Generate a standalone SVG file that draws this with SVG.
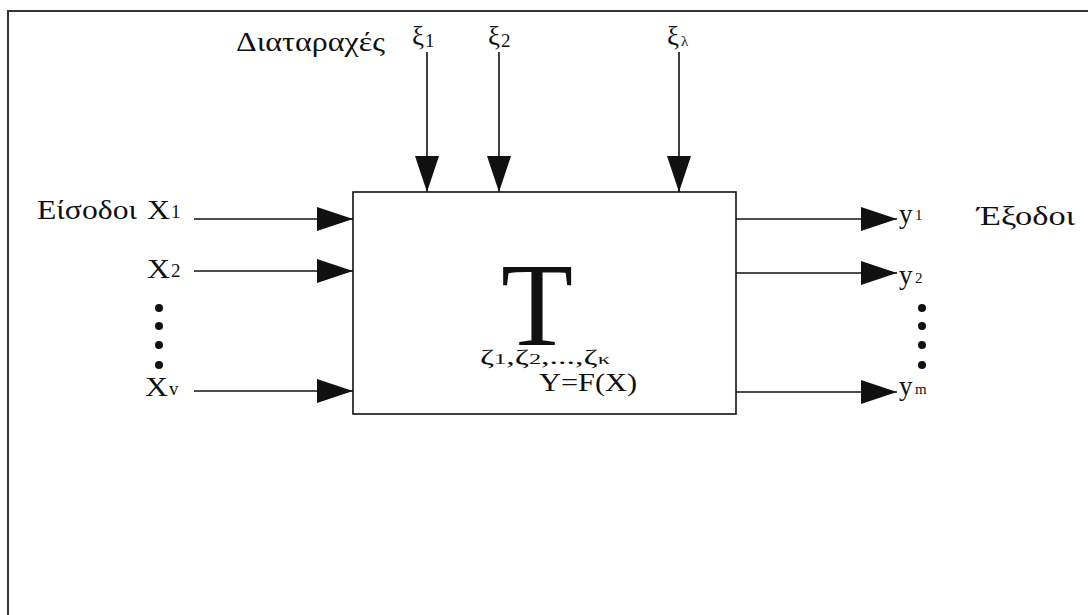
<svg xmlns="http://www.w3.org/2000/svg" width="1088" height="615" viewBox="0 0 1088 615">
<style>
text{font-family:"Liberation Serif","DejaVu Serif","Times New Roman",serif;fill:#111}
.m{font-size:27px}
.s{font-size:19px}
.o{font-size:15px}
.ln{stroke:#111;stroke-width:1.6;fill:none}
.dot{fill:#111}
</style>
<defs>
<marker id="ah" markerUnits="userSpaceOnUse" markerWidth="36" markerHeight="24" viewBox="0 0 36 24" refX="36" refY="12" orient="auto">
<path d="M0,0 L36,12 L0,24 z" fill="#111"/>
</marker>
</defs>
<rect width="1088" height="615" fill="#fff"/>
<g id="frame">
<path d="M8,615 V11 H1088" fill="none" stroke="#333" stroke-width="2"/>
</g>
<g id="system">
<rect x="353" y="192" width="383" height="222" fill="#fff" stroke="#111" stroke-width="1.6"/>
<text x="537" y="345" font-size="118" text-anchor="middle">T</text>
<text x="480" y="364" textLength="130" lengthAdjust="spacingAndGlyphs"><tspan font-size="21">ζ</tspan><tspan font-size="15">1</tspan><tspan font-size="21">,ζ</tspan><tspan font-size="15">2</tspan><tspan font-size="21">,...,ζ</tspan><tspan font-size="15">κ</tspan></text>
<text x="539" y="391" font-size="26" textLength="98" lengthAdjust="spacingAndGlyphs">Y=F(X)</text>
</g>
<g id="connectors">
<line class="ln" x1="194" y1="219" x2="353" y2="219" marker-end="url(#ah)"/>
<line class="ln" x1="194" y1="271" x2="353" y2="271" marker-end="url(#ah)"/>
<line class="ln" x1="194" y1="391" x2="353" y2="391" marker-end="url(#ah)"/>
<line class="ln" x1="427" y1="52" x2="427" y2="192" marker-end="url(#ah)"/>
<line class="ln" x1="499" y1="52" x2="499" y2="192" marker-end="url(#ah)"/>
<line class="ln" x1="679" y1="52" x2="679" y2="192" marker-end="url(#ah)"/>
<line class="ln" x1="736" y1="219" x2="897" y2="219" marker-end="url(#ah)"/>
<line class="ln" x1="736" y1="273" x2="897" y2="273" marker-end="url(#ah)"/>
<line class="ln" x1="736" y1="392" x2="897" y2="392" marker-end="url(#ah)"/>
</g>
<g id="inputs">
<text class="m" x="37" y="219" textLength="100" lengthAdjust="spacingAndGlyphs">Είσοδοι</text>
<text class="m" x="147" y="219" textLength="23" lengthAdjust="spacingAndGlyphs">X</text>
<text class="s" x="171" y="218">1</text>
<text class="m" x="147" y="278" textLength="23" lengthAdjust="spacingAndGlyphs">X</text>
<text class="s" x="171" y="277">2</text>
<text class="m" x="145" y="396" textLength="23" lengthAdjust="spacingAndGlyphs">X</text>
<text class="s" x="169" y="395">v</text>
<circle class="dot" cx="159" cy="308" r="4"/>
<circle class="dot" cx="159" cy="326" r="4"/>
<circle class="dot" cx="159" cy="345" r="4"/>
<circle class="dot" cx="159" cy="365" r="4"/>
</g>
<g id="disturbances">
<text class="m" x="236" y="51" textLength="149" lengthAdjust="spacingAndGlyphs">Διαταραχές</text>
<text class="m" x="412" y="45">ξ</text>
<text class="s" x="425" y="47">1</text>
<text class="m" x="488" y="45">ξ</text>
<text class="s" x="501" y="47">2</text>
<text class="m" x="667" y="45">ξ</text>
<text class="o" x="681" y="46">λ</text>
</g>
<g id="outputs">
<text class="m" x="899" y="223">y</text>
<text class="o" x="915" y="220">1</text>
<text class="m" x="899" y="284">y</text>
<text class="o" x="915" y="283">2</text>
<text class="m" x="899" y="395">y</text>
<text class="o" x="915" y="394">m</text>
<text class="m" x="977" y="225" textLength="98" lengthAdjust="spacingAndGlyphs">Έξοδοι</text>
<circle class="dot" cx="922" cy="308" r="4"/>
<circle class="dot" cx="922" cy="326" r="4"/>
<circle class="dot" cx="922" cy="345" r="4"/>
<circle class="dot" cx="922" cy="365" r="4"/>
</g>
</svg>
